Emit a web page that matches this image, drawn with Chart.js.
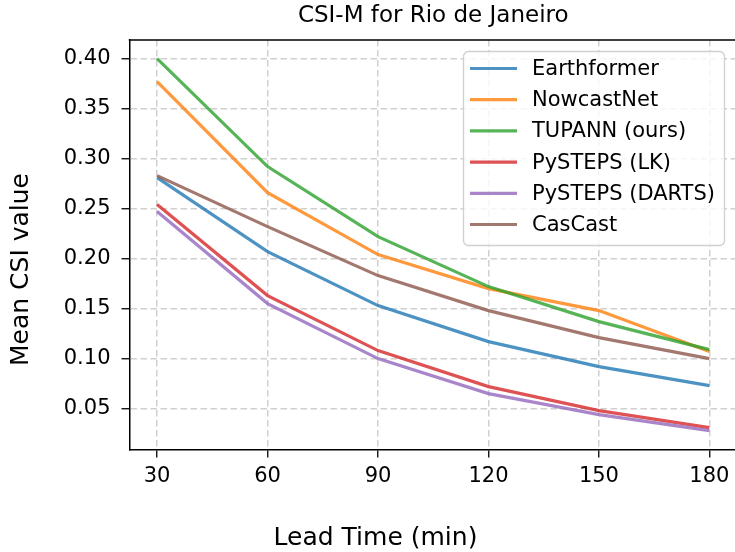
<!DOCTYPE html>
<html>
<head>
<meta charset="utf-8">
<script src="https://cdn.jsdelivr.net/npm/chart.js"></script>
<style>
  html, body { margin: 0; padding: 0; overflow: hidden; background: #fff; }
  #wrap { width: 738px; height: 552px; }
</style>
</head>
<body>
<div id="wrap"><canvas id="mycanvas" width="738" height="552"></canvas></div>
<script>
// lead times (min) and mean CSI per model
var leadTimes = [30, 60, 90, 120, 150, 180];
var earthformer = [0.281, 0.207, 0.153, 0.117, 0.092, 0.073];
var nowcastNet = [0.377, 0.266, 0.204, 0.170, 0.148, 0.107];
var tupann = [0.400, 0.292, 0.222, 0.172, 0.137, 0.109];
var pystepsLK = [0.254, 0.163, 0.108, 0.072, 0.048, 0.031];
var pystepsDARTS = [0.247, 0.155, 0.100, 0.065, 0.044, 0.028];
var casCast = [0.283, 0.232, 0.183, 0.148, 0.121, 0.100];

var seriesNames = ['Earthformer', 'NowcastNet', 'TUPANN (ours)', 'PySTEPS (LK)', 'PySTEPS (DARTS)', 'CasCast'];
var seriesValues = [earthformer, nowcastNet, tupann, pystepsLK, pystepsDARTS, casCast];
var seriesColors = ['rgba(31,119,180,0.8)', 'rgba(255,127,14,0.8)', 'rgba(44,160,44,0.8)',
                    'rgba(214,39,40,0.8)', 'rgba(148,103,189,0.8)', 'rgba(140,86,75,0.8)'];

var xTicks = [30, 60, 90, 120, 150, 180];
var yTicks = [0.05, 0.10, 0.15, 0.20, 0.25, 0.30, 0.35, 0.40];

var FONT = 'DejaVu Sans';

var datasets = seriesNames.map(function(name, i) {
  return {
    label: name,
    data: leadTimes.map(function(t, j) { return {x: t, y: seriesValues[i][j]}; }),
    borderColor: seriesColors[i],
    backgroundColor: seriesColors[i],
    borderWidth: 3.2,
    pointRadius: 0,
    tension: 0,
    fill: false,
    order: seriesNames.length - i   // later series on top, like matplotlib
  };
});

// title, axis labels, top spine and the legend box
var extras = {
  id: 'extras',
  afterDraw: function(chart) {
    var ctx = chart.ctx;
    var area = chart.chartArea;
    ctx.save();

    ctx.strokeStyle = '#000';
    ctx.lineWidth = 1.5;
    ctx.beginPath();
    ctx.moveTo(area.left - 0.75, area.top);
    ctx.lineTo(area.right, area.top);
    ctx.stroke();

    ctx.fillStyle = '#000';
    ctx.textAlign = 'center';
    ctx.textBaseline = 'alphabetic';
    ctx.font = '23px "' + FONT + '"';
    ctx.fillText('CSI-M for Rio de Janeiro', (area.left + area.right) / 2, 21.5);

    ctx.font = '25px "' + FONT + '"';
    ctx.fillText('Lead Time (min)', 375.5, 544.5);

    ctx.save();
    ctx.translate(28, 269.5);
    ctx.rotate(-Math.PI / 2);
    ctx.fillText('Mean CSI value', 0, 0);
    ctx.restore();

    // legend
    var bx = 463.5, by = 51.5, bw = 261, bh = 194, r = 5;
    ctx.beginPath();
    ctx.moveTo(bx + r, by);
    ctx.arcTo(bx + bw, by, bx + bw, by + bh, r);
    ctx.arcTo(bx + bw, by + bh, bx, by + bh, r);
    ctx.arcTo(bx, by + bh, bx, by, r);
    ctx.arcTo(bx, by, bx + bw, by, r);
    ctx.closePath();
    ctx.fillStyle = 'rgba(255,255,255,0.8)';
    ctx.fill();
    ctx.strokeStyle = '#d0d0d0';
    ctx.lineWidth = 1.3;
    ctx.stroke();

    ctx.font = '21px "' + FONT + '"';
    ctx.textAlign = 'left';
    ctx.textBaseline = 'middle';
    chart.data.datasets.forEach(function(ds, i) {
      var yy = 68.5 + i * 31.2;
      ctx.strokeStyle = ds.borderColor;
      ctx.lineWidth = 3.2;
      ctx.beginPath();
      ctx.moveTo(470, yy);
      ctx.lineTo(517, yy);
      ctx.stroke();
      ctx.fillStyle = '#000';
      ctx.fillText(ds.label, 532, yy + 1);
    });

    ctx.restore();
  }
};

var tickFont = { family: FONT, size: 21 };

var myChart = new Chart(document.getElementById('mycanvas'), {
  type: 'line',
  data: { datasets: datasets },
  options: {
    responsive: false,
    animation: false,
    devicePixelRatio: 1,
    layout: { padding: { top: 40, right: 1, left: 0, bottom: 0 } },
    plugins: {
      legend: { display: false },
      title: { display: false },
      tooltip: { enabled: false }
    },
    scales: {
      x: {
        type: 'linear',
        min: 22.5,
        max: 187.5,
        afterBuildTicks: function(axis) {
          axis.ticks = xTicks.map(function(v) { return {value: v}; });
        },
        afterFit: function(scale) { scale.height = 102.5; },
        ticks: { font: tickFont, color: '#000', padding: 6, maxRotation: 0, autoSkip: false },
        grid: { color: '#d0d0d0', lineWidth: 1.5, tickColor: '#000', tickLength: 8, tickWidth: 1.3 },
        border: { color: '#000', width: 1.5, dash: [6.5, 3.5] }
      },
      y: {
        min: 0.0091,
        max: 0.4186,
        afterBuildTicks: function(axis) {
          axis.ticks = yTicks.map(function(v) { return {value: v}; });
        },
        afterFit: function(scale) { scale.width = 129.5; },
        ticks: {
          font: tickFont, color: '#000', padding: 11,
          callback: function(v) { return v.toFixed(2); }
        },
        grid: { color: '#d0d0d0', lineWidth: 1.5, tickColor: '#000', tickLength: 8, tickWidth: 1.3 },
        border: { color: '#000', width: 1.5, dash: [6.5, 3.5] }
      }
    }
  },
  plugins: [extras]
});
</script>
</body>
</html>
